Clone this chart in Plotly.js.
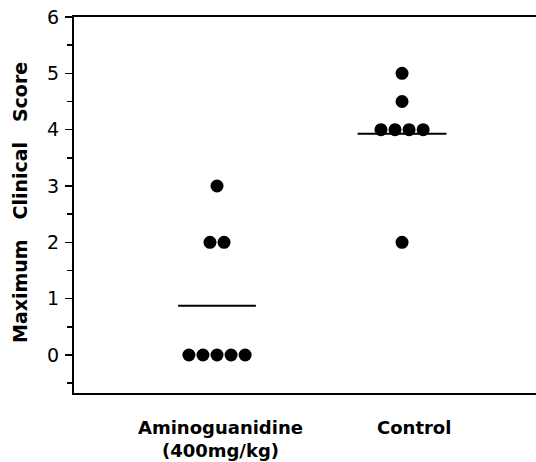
<!DOCTYPE html>
<html>
<head>
<meta charset="utf-8">
<script src="https://cdn.plot.ly/plotly-3.0.1.min.js"></script>
<style>html,body{margin:0;padding:0;background:#fff;}#chart{width:536px;height:462px;}</style>
</head>
<body>
<div id="chart"></div>
<script>
// ---- data ----
const groupLabels = ['Aminoguanidine<br>(400mg/kg)', 'Control'];
const aminoguanidineScores = [3, 2, 2, 0, 0, 0, 0, 0];
const controlScores = [5, 4.5, 4, 4, 4, 4, 2];
const yTickValues = [0, 1, 2, 3, 4, 5, 6];
const yAxisTitle = 'Maximum\u00a0\u00a0\u00a0Clinical\u00a0\u00a0\u00a0Score';

// ---- style / layout constants ----
const groupCenters = [1, 2];
const dotSpacing = 0.076;
const meanHalfWidths = [0.21, 0.24];
const labelShifts = [3, 12];
const ink = '#000';

function spread(values, center) {
  const counts = {}, seen = {};
  values.forEach(v => counts[v] = (counts[v] || 0) + 1);
  return values.map(v => {
    const i = seen[v] || 0; seen[v] = i + 1;
    return center + (i - (counts[v] - 1) / 2) * dotSpacing;
  });
}
const mean = a => a.reduce((s, v) => s + v, 0) / a.length;

const allGroups = [aminoguanidineScores, controlScores];
const traces = [];
allGroups.forEach((vals, gi) => {
  traces.push({
    type: 'scatter', mode: 'markers',
    x: spread(vals, groupCenters[gi]), y: vals,
    marker: {color: ink, size: 13, line: {width: 0}},
    hoverinfo: 'skip', showlegend: false
  });
  const m = mean(vals);
  traces.push({
    type: 'scatter', mode: 'lines',
    x: [groupCenters[gi] - meanHalfWidths[gi], groupCenters[gi] + meanHalfWidths[gi]],
    y: [m, m],
    line: {color: ink, width: 2},
    hoverinfo: 'skip', showlegend: false
  });
});

const annotations = groupLabels.map((t, gi) => ({
  x: groupCenters[gi], xref: 'x', y: 0, yref: 'paper',
  yanchor: 'top', xanchor: 'center', yshift: -22, xshift: labelShifts[gi],
  text: t, showarrow: false, align: 'center',
  font: {family: 'DejaVu Sans', size: 18, color: ink, weight: 'bold'}
}));
annotations.push({
  x: 0, xref: 'paper', y: 0.5, yref: 'paper', xanchor: 'center', yanchor: 'middle',
  xshift: -54, yshift: 2, textangle: -90, text: yAxisTitle, showarrow: false,
  font: {family: 'DejaVu Sans', size: 19, color: ink, weight: 'bold'}
});

const layout = {
  width: 536, height: 462,
  margin: {l: 74, r: 0, t: 17, b: 69},
  paper_bgcolor: '#fff', plot_bgcolor: '#fff',
  xaxis: {
    range: [0.227, 2.724], showgrid: false, zeroline: false,
    showline: true, linecolor: ink, linewidth: 2, mirror: true,
    showticklabels: false, ticks: ''
  },
  yaxis: {
    range: [-0.675, 6], showgrid: false, zeroline: false,
    showline: true, linecolor: ink, linewidth: 2,
    tickvals: yTickValues, ticktext: yTickValues.map(String),
    ticks: 'outside', ticklen: 7, tickwidth: 1.5, tickcolor: ink,
    minor: {dtick: 0.5, ticks: 'outside', ticklen: 5, tickwidth: 1.5, tickcolor: ink, showgrid: false},
    tickfont: {family: 'DejaVu Sans', size: 19, color: ink},
    ticklabelstandoff: 2
  },
  annotations: annotations
};

Plotly.newPlot('chart', traces, layout, {displayModeBar: false, staticPlot: true});
</script>
</body>
</html>
